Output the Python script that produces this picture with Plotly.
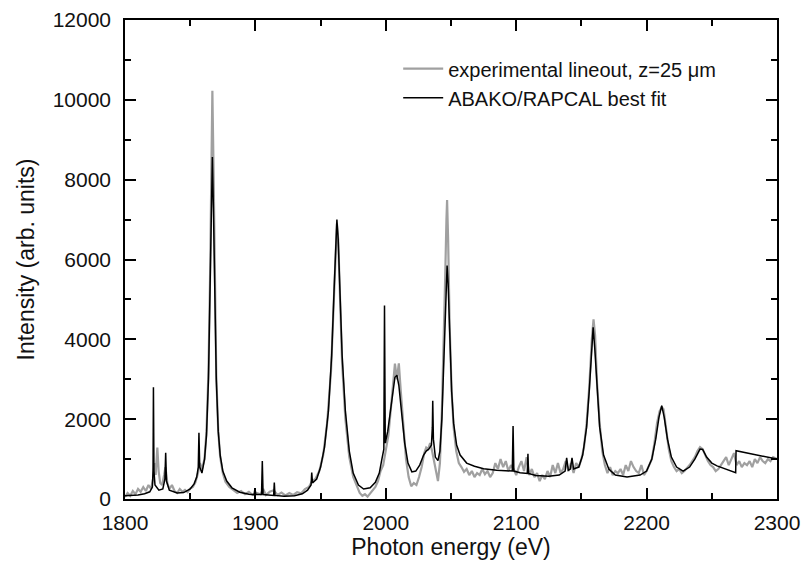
import plotly.graph_objects as go

# Experimental lineout (gray)
exp_energy = [1800, 1802, 1804, 1806, 1808, 1810, 1812, 1814, 1816, 1818, 1820, 1821.5, 1822.5, 1823.5, 1824.8,
              1825.8, 1827, 1828.5, 1830, 1831, 1832.5, 1834, 1836, 1838, 1840, 1842, 1844, 1846, 1848, 1850,
              1852, 1854, 1856, 1857.5, 1859, 1861, 1862.5, 1864, 1865.2, 1866.2, 1867, 1867.8, 1868.8, 1870,
              1871.5, 1873, 1875, 1877, 1880, 1883, 1886, 1889, 1892, 1895, 1898, 1901, 1904, 1906, 1908, 1911,
              1914, 1917, 1920, 1923, 1926, 1929, 1932, 1935, 1938, 1941, 1943.5, 1946, 1949, 1952, 1955, 1958,
              1960, 1961.5, 1962.5, 1963.5, 1964.7, 1966.5, 1969, 1972, 1975, 1978, 1980, 1982, 1984, 1986, 1988,
              1990, 1992, 1994, 1996, 1998, 2000, 2002, 2004, 2005.5, 2007, 2008.5, 2010, 2011.5, 2013.5, 2015.5,
              2017.5, 2019.5, 2021.5, 2023.5, 2025.5, 2027.5, 2029.5, 2031, 2032.5, 2034, 2035.5, 2037, 2038.5,
              2040, 2041.5, 2043, 2044.3, 2045.5, 2046.5, 2047, 2047.8, 2049, 2050.5, 2052, 2054, 2056, 2058,
              2060, 2062, 2064, 2066, 2068, 2070, 2072, 2074, 2076, 2078, 2080, 2082, 2084, 2086, 2088, 2090,
              2092, 2094, 2096, 2098, 2100, 2102, 2104, 2106, 2108, 2110, 2112, 2114, 2116, 2118, 2120, 2122,
              2124, 2126, 2128, 2130, 2132, 2134, 2136, 2138, 2140, 2142, 2144, 2146, 2148, 2150, 2152, 2154,
              2156, 2158, 2159.3, 2160.5, 2162, 2164, 2166, 2168, 2170, 2172, 2174, 2176, 2178, 2180, 2182, 2184,
              2186, 2188, 2190, 2192, 2194, 2196, 2198, 2200, 2202, 2204, 2206, 2208, 2210, 2211.6, 2213, 2215,
              2217, 2219, 2221, 2223, 2225, 2227, 2229, 2231, 2233, 2235, 2237, 2239, 2241, 2243, 2245, 2247,
              2249, 2251, 2253, 2255, 2257, 2259, 2261, 2263, 2265, 2267, 2269, 2271, 2273, 2275, 2277, 2279,
              2281, 2283, 2285, 2287, 2289, 2291, 2293, 2295, 2297, 2300]
exp_intensity = [50, 150, 80, 200, 120, 250, 180, 300, 200, 350, 250, 500, 900, 600, 1290,
                 700, 400, 350, 600, 800, 400, 250, 350, 200, 150, 250, 180, 230, 170, 260,
                 300, 420, 650, 900, 750, 1000, 1700, 3200, 5500, 8200, 10230, 8500, 5400, 3100,
                 1700, 1050, 650, 430, 300, 220, 150, 200, 120, 180, 100, 150, 120, 250, 100, 180,
                 220, 100, 160, 90, 150, 100, 170, 140, 250, 300, 450, 500, 700, 1100, 1900, 3200,
                 4800, 6300, 6900, 6500, 5000, 3400, 2000, 1050, 550, 300, 150, 80, 120, 60, 140,
                 200, 300, 450, 700, 850, 1200, 1600, 2300, 2900, 3390, 3000, 3400, 2700, 1800, 1000,
                 550, 320, 400, 350, 550, 800, 1150, 1290, 1250, 1400, 1200, 900, 700,
                 450, 900, 2200, 3600, 5500, 7000, 7490, 6500, 4300, 2700, 1800, 1200, 900, 800,
                 680, 750, 600, 700, 550, 650, 600, 750, 620, 700, 550, 650, 900, 750, 1000, 800,
                 950, 700, 850, 750, 600, 800, 950, 700, 1050, 600, 750, 550, 650, 450, 600, 500,
                 700, 550, 850, 650, 900, 650, 750, 950, 700, 900, 650, 900, 800, 1000, 1300, 1900,
                 2800, 4000, 4500, 4100, 2900, 1900, 1200, 850, 650, 800, 600, 700, 650, 750, 600, 850,
                 700, 950, 800, 700, 650, 850, 600, 700, 850, 1000, 1400, 1900, 2200, 2300, 2250, 1700,
                 1250, 950, 800, 700, 750, 650, 700, 780, 850, 950, 1050, 1200, 1300, 1250, 1100, 950,
                 850, 800, 700, 750, 850, 950, 1050, 850, 1000, 1150, 850, 950, 800, 900, 850, 950,
                 800, 1000, 900, 1050, 950, 900, 1000, 950, 1050, 1000]

# ABAKO/RAPCAL best fit (black)
fit_energy = [1800, 1805, 1810, 1815, 1819, 1821, 1821.5, 1821.8, 1822.2, 1823, 1826, 1829, 1830.6, 1831.2,
              1831.8, 1834, 1840, 1845, 1850, 1853, 1855, 1856.2, 1856.7, 1857.3, 1859, 1861, 1862.5, 1864,
              1865.2, 1866.2, 1867, 1867.8, 1868.8, 1870, 1871.5, 1873, 1875, 1878, 1882, 1888, 1895, 1899,
              1899.7, 1900.3, 1904.7, 1905.3, 1905.9, 1914, 1914.5, 1915, 1922, 1930, 1936, 1940, 1942.7,
              1943.2, 1943.8, 1947, 1950, 1953, 1956, 1958.5, 1960.3, 1961.5, 1962.5, 1963.5, 1964.7, 1966.5,
              1969, 1972, 1975, 1979, 1983, 1988, 1992, 1995, 1997, 1998.5, 1999, 1999.6, 2001.5, 2003.5,
              2005.5, 2007, 2008.5, 2010, 2012, 2014.5, 2017, 2020, 2023, 2026, 2029, 2031, 2033, 2035,
              2035.7, 2036, 2036.5, 2038, 2040, 2041.5, 2043, 2044, 2045.2, 2046.3, 2047, 2047.8, 2049,
              2050.5, 2052, 2054.3, 2057, 2062, 2068, 2075, 2085, 2093, 2097, 2097.6, 2098.2, 2103, 2108.5,
              2109, 2109.5, 2115, 2125, 2133, 2137.5, 2138.7, 2140, 2141.5, 2142.8, 2144, 2148, 2151, 2154,
              2156, 2157.8, 2159, 2160.2, 2162, 2164, 2167, 2171, 2176, 2185, 2195, 2200, 2204, 2207, 2209.5,
              2211.6, 2213.5, 2216, 2219, 2223, 2228, 2233, 2237, 2241, 2243, 2246, 2250, 2254, 2268.3,
              2268.6, 2300]
fit_intensity = [80, 90, 100, 130, 180, 300, 700, 2800, 700, 350, 220, 250, 500, 1160,
                 450, 220, 150, 160, 250, 380, 550, 800, 1660, 800, 650, 1000, 1600, 3000,
                 5000, 7300, 8570, 7300, 5000, 3000, 1700, 1100, 700, 450, 280, 170, 120, 110,
                 270, 110, 110, 950, 110, 90, 410, 90, 70, 80, 130, 220, 350,
                 660, 400, 500, 800, 1300, 2200, 3600, 5200, 6500, 7000, 6500, 5200, 3600,
                 2200, 1200, 650, 350, 250, 280, 420, 650, 1000, 1250, 4850, 1400, 1700, 2200,
                 2800, 3050, 3100, 2850, 2200, 1400, 900, 680, 700, 850, 1100, 1200, 1250, 1350,
                 1800, 2460, 1500, 1050, 960, 1200, 2000, 3000, 4500, 5700, 5850, 5400, 4000,
                 2700, 1900, 1350, 1100, 900, 820, 760, 720, 700, 700, 1830, 700, 660, 640,
                 1130, 640, 590, 570, 600, 700, 1030, 720, 750, 1030, 750, 800, 1100, 1800,
                 2700, 3800, 4300, 3800, 2700, 1800, 1100, 750, 600, 550, 600, 700, 1000, 1500, 2050,
                 2340, 2050, 1500, 1050, 800, 700, 800, 1000, 1250, 1240, 1050, 900, 830, 660,
                 1210, 1000]

x_ticks = [1800, 1900, 2000, 2100, 2200, 2300]
y_ticks = [0, 2000, 4000, 6000, 8000, 10000, 12000]

font_family = "Arial, Liberation Sans, Helvetica, sans-serif"

fig = go.Figure()
fig.add_trace(go.Scatter(x=exp_energy, y=exp_intensity, mode="lines",
                         name="experimental lineout, z=25 \u03bcm",
                         line=dict(color="#a0a0a0", width=2.2)))
fig.add_trace(go.Scatter(x=fit_energy, y=fit_intensity, mode="lines",
                         name="ABAKO/RAPCAL best fit",
                         line=dict(color="#000000", width=1.5)))

axis_common = dict(showline=True, linecolor="black", linewidth=1.5, mirror="ticks",
                   ticks="inside", tickcolor="black", tickwidth=1.5, ticklen=11,
                   showgrid=False, zeroline=False, automargin=False,
                   tickfont=dict(family=font_family, size=21, color="#111111"))

fig.update_xaxes(range=[1800, 2300], tickvals=x_ticks, ticktext=[str(v) for v in x_ticks],
                 minor=dict(dtick=50, tick0=1800, ticks="inside", ticklen=6, tickcolor="black", tickwidth=1.5),
                 ticklabelstandoff=4,
                 title=dict(text="Photon energy (eV)", font=dict(family=font_family, size=23, color="#111111"),
                            standoff=5),
                 **axis_common)
fig.update_yaxes(range=[0, 12000], tickvals=y_ticks, ticktext=[str(v) for v in y_ticks],
                 minor=dict(dtick=1000, tick0=0, ticks="inside", ticklen=6, tickcolor="black", tickwidth=1.5),
                 ticklabelstandoff=8,
                 title=dict(text="Intensity (arb. units)", font=dict(family=font_family, size=23, color="#111111"),
                            standoff=12),
                 **axis_common)

fig.update_layout(
    width=805, height=572,
    margin=dict(l=125, r=28, t=20, b=73),
    paper_bgcolor="white", plot_bgcolor="white",
    showlegend=True,
    legend=dict(x=0.419, y=0.939, xanchor="left", yanchor="top",
                bgcolor="rgba(0,0,0,0)", borderwidth=0,
                font=dict(family=font_family, size=20, color="#111111"),
                itemwidth=40, tracegroupgap=0),
)

fig.write_html("out.html", config={"displayModeBar": False},
               post_script="document.body.style.margin='0';document.body.style.overflow='hidden';")
